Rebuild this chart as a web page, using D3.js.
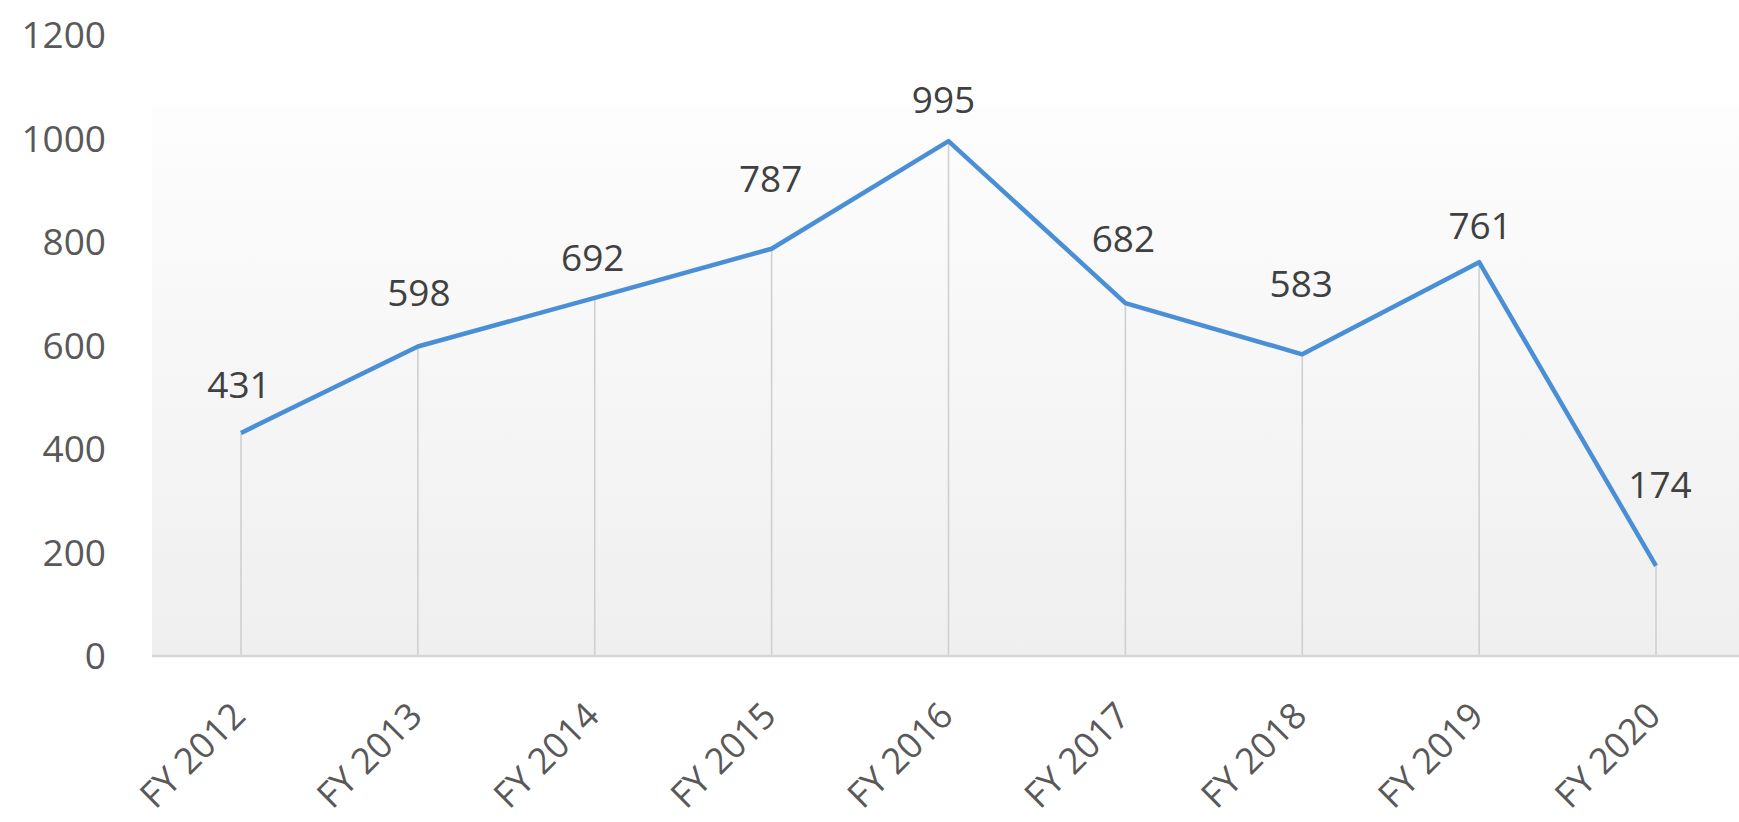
<!DOCTYPE html>
<html>
<head>
<meta charset="utf-8">
<script src="https://cdn.jsdelivr.net/npm/d3@7"></script>
<style>
  html, body { margin: 0; padding: 0; background: #ffffff; }
  svg { display: block; }
  text { font-family: "Open Sans", "Noto Sans", sans-serif; }
</style>
</head>
<body>
<svg id="chart" width="1739" height="822"></svg>
<script>
// ---- data ----
const categories = ["FY 2012", "FY 2013", "FY 2014", "FY 2015", "FY 2016", "FY 2017", "FY 2018", "FY 2019", "FY 2020"];
const values = [431, 598, 692, 787, 995, 682, 583, 761, 174];
const yTicks = [0, 200, 400, 600, 800, 1000, 1200];

// ---- layout ----
const W = 1739, H = 822;
const plotLeft = 152, plotRight = 1739, plotBottom = 656, plotTop = 35, bgTop = 105;
// manual label lift (px above point, label centre) as placed in the original chart
const labelLift = [48, 54, 40, 70, 41, 64, 71, 37, 81];
const labelShiftX = [-2, 1, -2, -1, -5, -2, -1, 1, 4];

const svg = d3.select("#chart");

const defs = svg.append("defs");
const grad = defs.append("linearGradient").attr("id", "bg").attr("x1", 0).attr("y1", 0).attr("x2", 0).attr("y2", 1);
grad.append("stop").attr("offset", "0%").attr("stop-color", "#fdfdfd");
grad.append("stop").attr("offset", "100%").attr("stop-color", "#efefef");

const x = d3.scalePoint().domain(categories).range([241, 1656]);
const y = d3.scaleLinear().domain([0, 1200]).range([plotBottom, plotTop]);

// plot background
svg.append("rect")
  .attr("x", plotLeft).attr("y", bgTop)
  .attr("width", plotRight - plotLeft).attr("height", plotBottom - bgTop)
  .attr("fill", "url(#bg)");

// y axis labels
const yAxis = d3.axisLeft(y).tickValues(yTicks).tickSize(0).tickPadding(0).tickFormat(d3.format("d"));
const gy = svg.append("g").attr("transform", "translate(106,0)").call(yAxis);
gy.select(".domain").remove();
gy.selectAll("text")
  .attr("x", 0).attr("dy", "0.35em")
  .attr("fill", "#595959").style("font-size", "37px")
  .style("font-family", "'Open Sans', sans-serif");

// drop lines
svg.append("g").selectAll("line")
  .data(values)
  .join("line")
  .attr("x1", (d, i) => x(categories[i])).attr("x2", (d, i) => x(categories[i]))
  .attr("y1", d => y(d)).attr("y2", plotBottom)
  .attr("stroke", "#d0d0d0").attr("stroke-width", 1.6);

// baseline (category axis)
const xAxis = d3.axisBottom(x).tickSize(0).tickPadding(0);
const gx = svg.append("g").attr("transform", `translate(0,${plotBottom})`).call(xAxis);
gx.select(".domain").remove();
svg.append("line")
  .attr("x1", plotLeft).attr("x2", plotRight)
  .attr("y1", plotBottom).attr("y2", plotBottom)
  .attr("stroke", "#d6d6d6").attr("stroke-width", 2.5);
gx.selectAll("text")
  .attr("text-anchor", "end")
  .attr("transform", "translate(6,62) rotate(-45)")
  .attr("y", 0).attr("dy", 0)
  .attr("fill", "#595959").style("font-size", "36px")
  .style("font-family", "'Open Sans', sans-serif");

// line
const line = d3.line()
  .x((d, i) => x(categories[i]))
  .y(d => y(d));
svg.append("path")
  .datum(values)
  .attr("d", line)
  .attr("fill", "none")
  .attr("stroke", "#4a8fd5")
  .attr("stroke-width", 4.5)
  .attr("stroke-linejoin", "round");

// data labels
svg.append("g").selectAll("text")
  .data(values)
  .join("text")
  .attr("x", (d, i) => x(categories[i]) + labelShiftX[i])
  .attr("y", (d, i) => y(d) - labelLift[i])
  .attr("dy", "0.36em")
  .attr("text-anchor", "middle")
  .attr("fill", "#404040")
  .style("font-size", "37px")
  .text(d => d);
</script>
</body>
</html>
